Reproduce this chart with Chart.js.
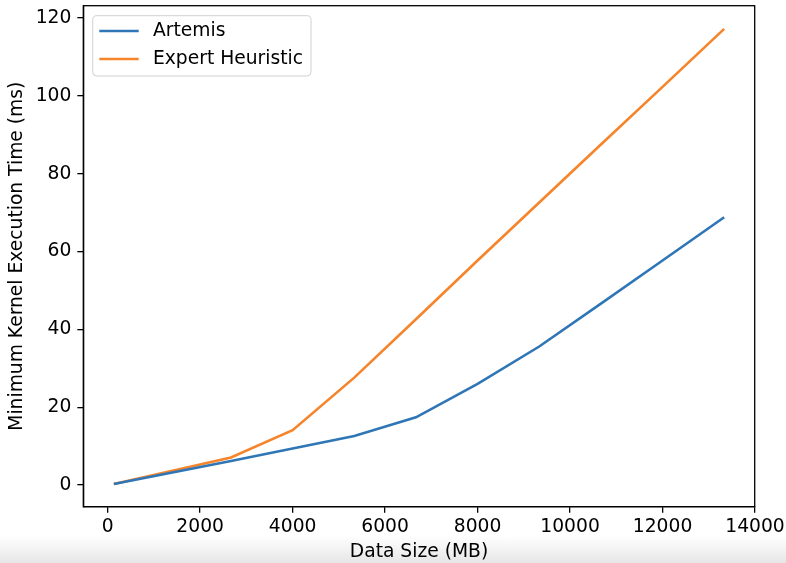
<!DOCTYPE html>
<html>
<head>
<meta charset="utf-8">
<script src="https://cdn.jsdelivr.net/npm/chart.js@4.4.1/dist/chart.umd.min.js"></script>
<style>
  html, body { margin: 0; padding: 0; }
  body { width: 786px; height: 563px; overflow: hidden;
         background: linear-gradient(to bottom, #ffffff 0px, #ffffff 536px, #e6e6e6 563px); }
  canvas { display: block; }
</style>
</head>
<body>
<canvas id="c" width="786" height="563"></canvas>
<script>
// ---- data ----
const dataSizeMB = [133, 2667, 4000, 5333, 6667, 8000, 9333, 10667, 12000, 13333];
const artemisMs  = [0.3, 6.2, 9.4, 12.6, 17.4, 26.0, 35.6, 46.6, 57.7, 68.8];
const expertMs   = [0.3, 7.1, 14.1, 27.6, 42.6, 57.7, 72.6, 87.5, 102.3, 117.2];
const xTicks = [0, 2000, 4000, 6000, 8000, 10000, 12000, 14000];
const yTicks = [0, 20, 40, 60, 80, 100, 120];
const seriesNames = ['Artemis', 'Expert Heuristic'];

const FONT = 'DejaVu Sans';
const FS = 18.7;
const pts = (xs, ys) => xs.map((x, i) => ({ x: x, y: ys[i] }));

const frame = {
  id: 'frame',
  afterDatasetsDraw(chart) {
    const { ctx, chartArea: a } = chart;
    ctx.save();
    ctx.strokeStyle = '#000';
    ctx.lineWidth = 1.3;
    ctx.strokeRect(a.left, a.top, a.right - a.left, a.bottom - a.top);
    ctx.restore();
  }
};

const insideLegend = {
  id: 'insideLegend',
  afterDraw(chart) {
    const { ctx, chartArea: a } = chart;
    const x0 = a.left + 9.4, y0 = a.top + 10;
    const w = 218.3, h = 60.3, r = 4;
    ctx.save();
    ctx.beginPath();
    ctx.roundRect(x0, y0, w, h, r);
    ctx.fillStyle = 'rgba(255,255,255,0.85)';
    ctx.fill();
    ctx.strokeStyle = '#d0d0d0';
    ctx.lineWidth = 1;
    ctx.stroke();
    ctx.font = FS + 'px "' + FONT + '"';
    ctx.textBaseline = 'middle';
    chart.data.datasets.forEach((ds, i) => {
      const yy = y0 + 15.3 + i * 28;
      ctx.beginPath();
      ctx.moveTo(x0 + 6.6, yy);
      ctx.lineTo(x0 + 46, yy);
      ctx.strokeStyle = ds.borderColor;
      ctx.lineWidth = 2.6;
      ctx.stroke();
      ctx.fillStyle = '#000';
      ctx.fillText(ds.label, x0 + 60.3, yy + 0.5);
    });
    ctx.restore();
  }
};

new Chart(document.getElementById('c'), {
  type: 'line',
  data: {
    datasets: [
      { label: seriesNames[0], data: pts(dataSizeMB, artemisMs), borderColor: '#2f76b6',
        borderWidth: 2.6, pointRadius: 0, tension: 0, fill: false },
      { label: seriesNames[1], data: pts(dataSizeMB, expertMs), borderColor: '#f6842a',
        borderWidth: 2.6, pointRadius: 0, tension: 0, fill: false }
    ]
  },
  options: {
    responsive: false,
    animation: false,
    devicePixelRatio: 1,
    layout: { padding: { left: 0, right: 31.3, top: 5.7, bottom: 0 } },
    plugins: { legend: { display: false }, tooltip: { enabled: false } },
    scales: {
      x: {
        type: 'linear',
        min: -527,
        max: 13993,
        afterBuildTicks: s => { s.ticks = xTicks.map(v => ({ value: v })); },
        afterFit: s => { s.height = 56.3; s.paddingLeft = 0; s.paddingRight = 0; },
        grid: { display: true, drawOnChartArea: false, drawTicks: true, tickLength: 6, color: '#000', lineWidth: 1.3 },
        border: { display: true, color: '#000', width: 1.3 },
        ticks: { color: '#000', font: { family: FONT, size: FS }, padding: 3, maxRotation: 0, autoSkip: false,
                 callback: v => String(v) },
        title: { display: true, text: 'Data Size (MB)', color: '#000',
                 font: { family: FONT, size: FS, lineHeight: 1.2 }, padding: { top: 0, bottom: 0 } }
      },
      y: {
        type: 'linear',
        min: -5.55,
        max: 123.15,
        afterBuildTicks: s => { s.ticks = yTicks.map(v => ({ value: v })); },
        afterFit: s => { s.width = 83.3; s.paddingTop = 0; s.paddingBottom = 0; },
        grid: { display: true, drawOnChartArea: false, drawTicks: true, tickLength: 6, color: '#000', lineWidth: 1.3 },
        border: { display: true, color: '#000', width: 1.3 },
        ticks: { color: '#000', font: { family: FONT, size: FS }, padding: 6, autoSkip: false,
                 callback: v => String(v) },
        title: { display: true, text: 'Minimum Kernel Execution Time (ms)', color: '#000',
                 font: { family: FONT, size: FS, lineHeight: 1.2 }, padding: { top: 6, bottom: 0 } }
      }
    }
  },
  plugins: [frame, insideLegend]
});
</script>
</body>
</html>
